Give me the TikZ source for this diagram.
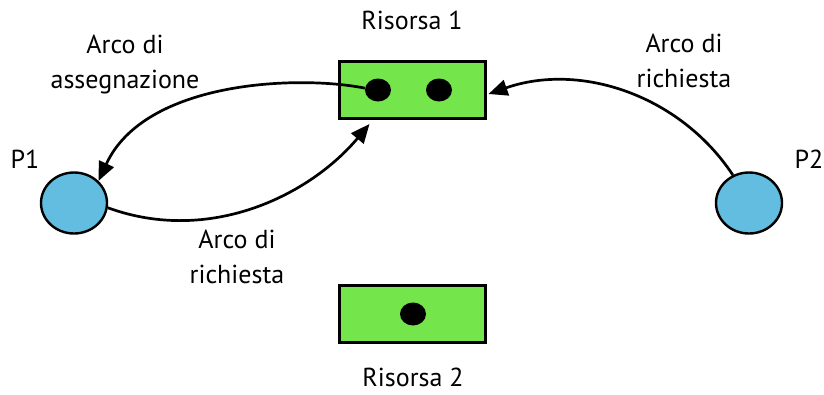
\documentclass[tikz,border=0pt]{standalone}
\usepackage{fontspec}
\setmainfont{PT Sans}
\usetikzlibrary{arrows.meta,shapes.geometric}
\definecolor{resgreen}{RGB}{116,230,76}
\definecolor{procblue}{RGB}{98,189,224}
\begin{document}
\begin{tikzpicture}[x=1pt,y=-1pt,
  lbl/.style={font=\fontsize{26}{35}\selectfont, align=center, inner sep=0pt},
  resbox/.style={draw=black, line width=3pt, fill=resgreen, minimum width=146pt, minimum height=57pt, inner sep=0pt},
  token/.style={ellipse, fill=black, minimum width=26pt, minimum height=23pt, inner sep=0pt},
  proc/.style={ellipse, draw=black, line width=2.4pt, fill=procblue, minimum width=66pt, minimum height=61pt, inner sep=0pt},
  arc/.style={line width=2.7pt, -{Triangle[length=19pt,width=16pt]}}]
\path[use as bounding box] (0,0) rectangle (824,394);
% resources
\node[resbox] (r1) at (412,90) {};
\node[token] (d1) at (378,90) {};
\node[token] (d2) at (439,90) {};
\node[resbox] (r2) at (412,313.5) {};
\node[token] (d3) at (413,314) {};
% processes
\node[proc] (p1) at (74,203) {};
\node[proc] (p2) at (749,203) {};
% labels
\node[lbl, anchor=base] (t1) at (412,29) {Risorsa 1};
\node[lbl, anchor=base] (t2) at (413,386) {Risorsa 2};
\node[lbl, anchor=base] (tp1) at (25,168) {P1};
\node[lbl, anchor=base] (tp2) at (809,168) {P2};
\node[lbl, anchor=base] (la) at (125,88) {Arco di\\assegnazione};
\node[lbl, anchor=base] (lb) at (684,87) {Arco di\\richiesta};
\node[lbl, anchor=base] (lc) at (237,283) {Arco di\\richiesta};
% arcs
\draw[arc] (d1.172) .. controls (300,75) and (145,80) .. (p1.42);
\draw[arc] (p1.-8) .. controls (210,245) and (310,195) .. ([xshift=32pt,yshift=-4pt]r1.south west);
\draw[arc] (p2.120) .. controls (680,95) and (580,62) .. ([xshift=2pt,yshift=-4pt]r1.east);
\end{tikzpicture}
\end{document}
